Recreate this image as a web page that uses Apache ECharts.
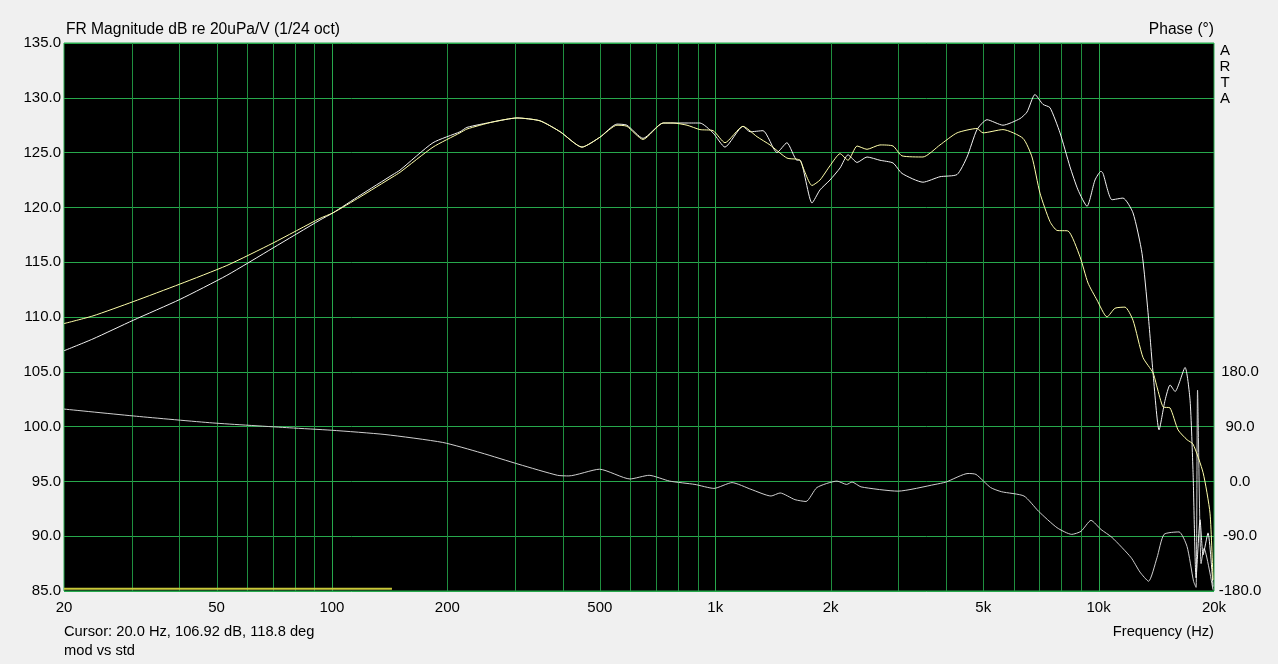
<!DOCTYPE html>
<html><head><meta charset="utf-8">
<script src="https://cdn.jsdelivr.net/npm/echarts@6/dist/echarts.min.js"></script>
<style>html,body{margin:0;padding:0;background:#f0f0f0;}#c{width:1278px;height:664px;}</style>
</head><body><div id="c"></div>
<script>
// ---- data ----
const stdFreq = [20, 23.8, 30.3, 40.1, 53.2, 70.2, 93.1, 100.6, 118.4, 144.3, 150.5, 183.5, 215.8, 225, 263, 304, 349, 394, 449, 500, 554, 588, 648, 731, 776, 844, 912, 987, 1060, 1181, 1232, 1332, 1449, 1538, 1634, 1664, 1788, 1876, 1992, 2116, 2220, 2344, 2488, 2690, 2909, 3070, 3482, 3857, 4273, 4537, 4817, 5116, 5630, 6236, 6504, 6823, 7160, 7468, 7931, 8422, 8836, 9327, 9786, 10146, 10268, 10838, 11578, 12296, 12980, 13458, 13868, 14378, 14906, 15362, 15830, 16808, 17322, 17636, 17958, 18394, 18730, 19294, 19882];
const stdDb = [106.92, 108.0, 109.7, 111.6, 113.8, 116.3, 118.85, 119.5, 121.1, 123.0, 123.4, 125.9, 126.9, 127.3, 127.8, 128.16, 127.9, 126.9, 125.5, 126.4, 127.6, 127.5, 126.3, 127.7, 127.7, 127.7, 127.7, 126.8, 125.5, 127.4, 126.9, 127.0, 125.0, 125.9, 124.3, 124.3, 120.4, 121.6, 122.5, 123.6, 124.8, 124.1, 124.6, 124.3, 124.05, 123.1, 122.3, 122.8, 123.0, 124.6, 127.1, 128.0, 127.5, 128.1, 128.7, 130.3, 129.4, 129.1, 126.8, 123.7, 121.6, 120.1, 122.5, 123.3, 123.1, 120.7, 120.85, 119.5, 115.8, 110.4, 104.9, 99.7, 102.4, 103.8, 103.2, 105.4, 102.4, 95.8, 86.2, 91.5, 88.3, 90.3, 85.4];

const modFreq = [20, 23.8, 30.3, 40.1, 53.2, 70.2, 93.1, 100.6, 118.4, 144.3, 150.5, 183.5, 215.8, 225, 263, 304, 349, 394, 449, 500, 554, 588, 648, 731, 776, 844, 912, 987, 1060, 1181, 1285, 1389, 1538, 1634, 1664, 1788, 1876, 1992, 2116, 2220, 2344, 2488, 2690, 2909, 3070, 3482, 3857, 4273, 4817, 4994, 5630, 6350, 6702, 7032, 7468, 7789, 8322, 8942, 9384, 9904, 10518, 11036, 11718, 12296, 13058, 13868, 14206, 14728, 15362, 16118, 17012, 17636, 18730, 19526, 19882];
const modDb = [109.4, 110.1, 111.4, 113.0, 114.7, 116.75, 119.0, 119.5, 120.95, 122.8, 123.2, 125.5, 126.8, 127.15, 127.8, 128.16, 127.9, 126.9, 125.5, 126.4, 127.5, 127.4, 126.2, 127.7, 127.7, 127.5, 127.1, 127.0, 125.9, 127.4, 126.45, 125.7, 124.5, 124.4, 124.3, 122.0, 122.5, 123.8, 124.9, 124.3, 125.6, 125.3, 125.7, 125.6, 124.7, 124.6, 125.7, 126.8, 127.2, 126.8, 127.1, 126.3, 124.6, 121.3, 118.7, 117.9, 117.85, 115.5, 113.1, 111.55, 110.0, 110.8, 110.9, 109.7, 106.3, 104.9, 103.6, 101.8, 101.7, 99.7, 98.8, 98.4, 95.8, 92.1, 86.0];

const phaseFreq = [20, 30.9, 48.9, 77.6, 99.9, 137.5, 194.5, 244.8, 307.6, 387.7, 415, 499, 599, 672, 760, 885, 992, 1106, 1239, 1398, 1476, 1614, 1725, 1842, 2078, 2201, 2274, 2400, 2996, 3744, 4000, 4564, 4788, 5225, 5584, 6388, 6970, 7789, 8510, 8996, 9554, 10146, 10838, 12150, 12824, 13498, 14206, 14816, 16214, 17012, 17688, 17958, 18118, 18506, 18842, 19882];
const phaseDeg = [118.8, 107, 96, 88, 84, 77, 64, 47, 28, 10, 9, 20, 4, 10, 0.5, -5, -11.5, -2, -13, -24, -19, -30, -33, -10, 0.5, -5, -1, -9, -16, -5, -1, 13, 11.5, -10, -17, -24, -49, -76, -87, -82, -64, -79, -92, -125, -149, -164, -125, -87, -83, -107, -164, -174, 150, -135, -110, -178];

const markerFreq = [20, 143.4];
const markerDb = [85.2, 85.2];

const xTickValues = [20, 50, 100, 200, 500, 1000, 2000, 5000, 10000, 20000];
const gridFreqMinor = [30, 40, 50, 60, 70, 80, 90, 200, 300, 400, 500, 600, 700, 800, 900, 2000, 3000, 4000, 5000, 6000, 7000, 8000, 9000];
const gridFreqMajor = [100, 1000, 10000];

const titleText = 'FR Magnitude dB re 20uPa/V (1/24 oct)';
const phaseTitle = 'Phase (°)';
const cursorText = 'Cursor: 20.0 Hz, 106.92 dB, 118.8 deg';
const legendText = 'mod vs std';
const xTitle = 'Frequency (Hz)';

// ---- chart ----
const zip = (a, b) => a.map((v, i) => [v, b[i]]);
const FONT = '"Liberation Sans", Arial, sans-serif';
const GRID_MINOR = '#1f8f3f';
const GRID_MAJOR = '#27a84c';
const LBL = 15;
const Y_MIN = 85, Y_MAX = 135;

function gridSeries(freqs, color) {
  return {
    type: 'custom', silent: true, z: 1, animation: false,
    encode: {x: 0, y: 1},
    data: freqs.map(f => [f, Y_MIN]),
    renderItem: (params, api) => {
      const p = api.coord([api.value(0), Y_MIN]);
      const q = api.coord([api.value(0), Y_MAX]);
      const x = Math.round(p[0]) + 0.5;
      return {type: 'line', shape: {x1: x, y1: p[1], x2: x, y2: q[1]},
              style: {stroke: color, lineWidth: 1}, silent: true};
    }
  };
}

const chart = echarts.init(document.getElementById('c'), null, {renderer: 'canvas'});
chart.setOption({
  backgroundColor: '#f0f0f0',
  animation: false,
  textStyle: {fontFamily: FONT},
  grid: {left: 64, top: 43, width: 1150, height: 548, show: true, backgroundColor: '#000',
         borderColor: GRID_MAJOR, borderWidth: 1, containLabel: false},
  xAxis: {
    type: 'log', logBase: 10, min: 20, max: 20000,
    axisLine: {show: false}, axisTick: {show: false}, splitLine: {show: false}, minorSplitLine: {show: false},
    axisLabel: {customValues: xTickValues, color: '#000', fontSize: LBL, fontFamily: FONT, margin: 9,
      showMinLabel: true, showMaxLabel: true, hideOverlap: false,
      formatter: v => { v = Math.round(v); return v >= 1000 ? (v / 1000) + 'k' : String(v); }}
  },
  yAxis: [{
    type: 'value', min: Y_MIN, max: Y_MAX, interval: 5, position: 'left',
    axisLine: {show: false}, axisTick: {show: false},
    splitLine: {show: true, lineStyle: {color: GRID_MAJOR, width: 1}},
    axisLabel: {color: '#000', fontSize: LBL, fontFamily: FONT, margin: 3, formatter: v => v.toFixed(1)}
  }, {
    type: 'value', min: -180, max: 720, interval: 90, position: 'right',
    axisLine: {show: false}, axisTick: {show: false}, splitLine: {show: false},
    axisLabel: {color: '#000', fontSize: LBL, fontFamily: FONT, margin: 26, align: 'center',
      formatter: v => v <= 180 ? v.toFixed(1) : ''}
  }],
  series: [
    gridSeries(gridFreqMinor, GRID_MINOR),
    gridSeries(gridFreqMajor, GRID_MAJOR),
  {
    type: 'line', name: 'phase', yAxisIndex: 1, data: zip(phaseFreq, phaseDeg), z: 3,
    showSymbol: false, symbol: 'none', smooth: 0.2, lineStyle: {color: '#cfcfcf', width: 1}
  }, {
    type: 'line', name: 'std', data: zip(stdFreq, stdDb), z: 3,
    showSymbol: false, symbol: 'none', smooth: 0.2, lineStyle: {color: '#f2f2f2', width: 1}
  }, {
    type: 'line', name: 'mod', data: zip(modFreq, modDb), z: 4,
    showSymbol: false, symbol: 'none', smooth: 0.2, lineStyle: {color: '#ffffaa', width: 1}
  }, {
    type: 'line', name: 'marker', data: zip(markerFreq, markerDb), z: 4,
    showSymbol: false, symbol: 'none', lineStyle: {color: '#c8c83a', width: 2}
  }],
  graphic: [
    {type: 'text', x: 66, y: 30, style: {text: titleText, font: '15.6px ' + FONT, fill: '#000', align: 'left', verticalAlign: 'middle'}},
    {type: 'text', x: 1214, y: 30, style: {text: phaseTitle, font: '15.6px ' + FONT, fill: '#000', align: 'right', verticalAlign: 'middle'}},
    {type: 'text', x: 1225, y: 43, style: {text: 'A\nR\nT\nA', font: '15px ' + FONT, lineHeight: 16, fill: '#000', align: 'center', verticalAlign: 'top'}},
    {type: 'text', x: 64, y: 632, style: {text: cursorText, font: '14.7px ' + FONT, fill: '#000', align: 'left', verticalAlign: 'middle'}},
    {type: 'text', x: 64, y: 651, style: {text: legendText, font: '14.7px ' + FONT, fill: '#000', align: 'left', verticalAlign: 'middle'}},
    {type: 'text', x: 1214, y: 632, style: {text: xTitle, font: '14.7px ' + FONT, fill: '#000', align: 'right', verticalAlign: 'middle'}}
  ]
});
</script></body></html>
